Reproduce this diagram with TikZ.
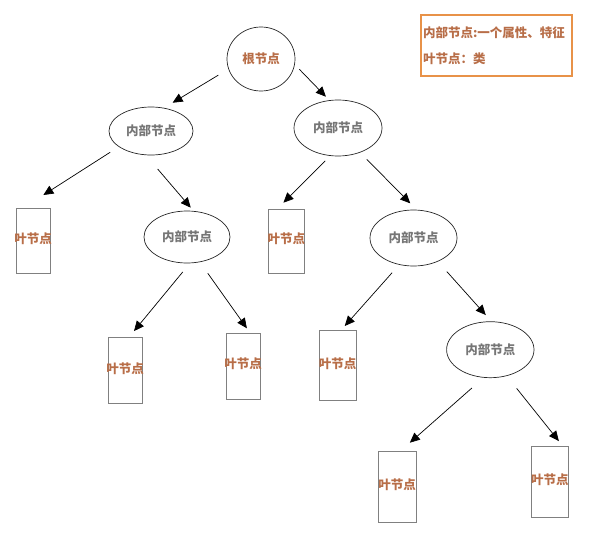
\documentclass[tikz,border=0pt]{standalone}
\usepackage{fontspec}
\usepackage{tikz}
\usetikzlibrary{arrows.meta,shapes.geometric}
\newfontfamily\cjk{Noto Sans CJK SC}
\definecolor{leafbrown}{RGB}{184,110,72}
\definecolor{innergray}{RGB}{118,118,118}
\definecolor{boxorange}{RGB}{232,146,72}

\begin{document}
\begin{tikzpicture}[x=1pt,y=-1pt]
\tikzset{innode/.style = {shape=ellipse,draw=black!85,line width=0.7pt,inner sep=0pt,outer sep=0pt,
    font=\cjk\bfseries\fontsize{12.5}{15}\selectfont,text=innergray},
  leaftext/.style = {font=\cjk\bfseries\fontsize{12.5}{15}\selectfont,text=leafbrown,inner sep=0pt,yshift=2pt},
  leafnode/.style = {shape=rectangle,draw=black!50,line width=1pt,inner sep=0pt,outer sep=0pt,
    label={[leaftext]center:叶节点}},
  legendbox/.style = {draw=boxorange,line width=1.6pt,inner xsep=2pt,text width=147pt,minimum height=61pt,
    align=left,font=\cjk\bfseries\fontsize{12.5}{25.7}\selectfont,text=leafbrown},
  edge/.style = {-{Triangle[length=10pt,width=9pt]},line width=0.7pt}}
\useasboundingbox (0,0) rectangle (616,546);
% vertices
\node[innode,minimum width=68pt,minimum height=64pt,text=leafbrown] (root) at (261,59) {根节点};
\foreach \name/\x/\y/\w/\h in {n1/151/131/84/48,n2/338/128/88/56,n3/187/237/86/52,n4/413.5/238/87/56,n5/490.3/349.7/87.4/56} {
    \node[innode,minimum width=\w pt,minimum height=\h pt] (\name) at (\x,\y) {内部节点};
}
\foreach \name/\x/\y/\w/\h in {l1/33/240.5/34/65,l2/286.3/241/36/64,l3/125/370.8/34/66,l4/243.2/366/34/66,l5/337.5/365.7/37/70,l6/397.2/487/37.7/70.6,l7/549.9/481.9/37.7/70.3} {
    \node[leafnode,minimum width=\w pt,minimum height=\h pt] (\name) at (\x,\y) {};
}
\node[legendbox] (legend) at (496.5,45.5) {内部节点:一个属性、特征\\叶节点：类};
% edges
\foreach \i/\j/\s/\t in {root.197/n1.61/12/10.4,root.351/n2.107/6.9/5.3,n1.206/l1.107/10.6/24.1,n1.257/n3.75/18.7/4.8,
    n2.255/l2.106/7.6/8.9,n2.312/n4.83/9.8/9.5,n3.277/l3.84/11.7/8.7,n3.297/l4.78/14/5.8,
    n4.242/l5.85/11/6.3,n4.316/n5.87/13.8/9,n5.257/l6.86/16/13.6,n5.302/l7.69/16.2/7.3} {
    \draw[edge,shorten <=\s pt,shorten >=\t pt] (\i) -- (\j);
}
\end{tikzpicture}
\end{document}
